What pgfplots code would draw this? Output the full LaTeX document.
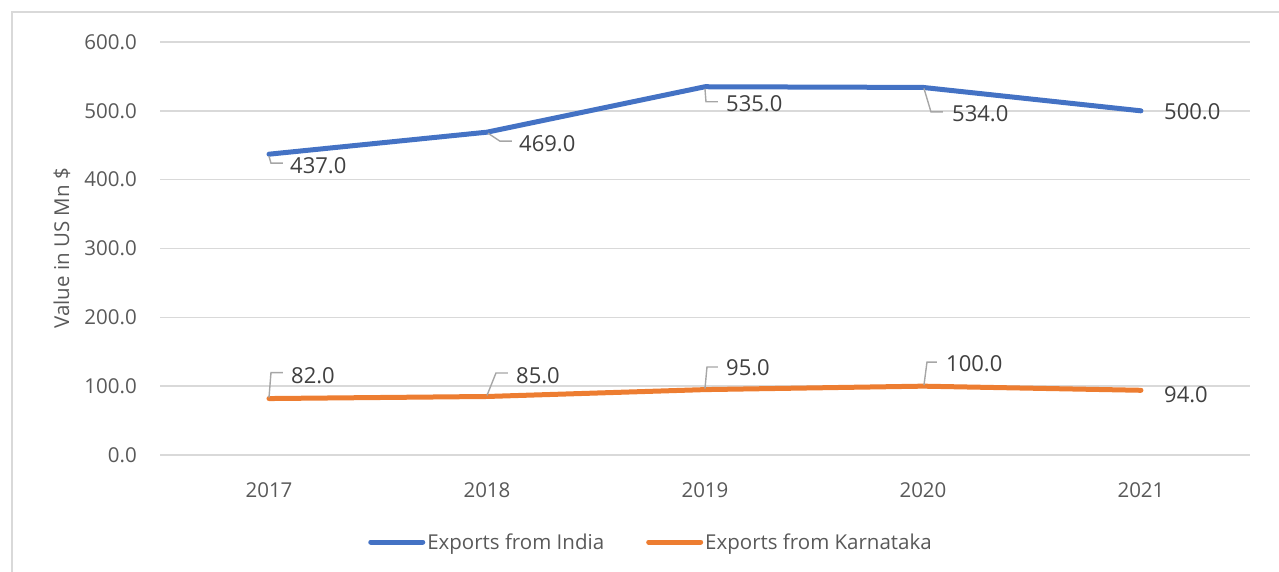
\documentclass[border=0pt]{standalone}
\usepackage{fontspec}
\setmainfont{Open Sans}
\usepackage{pgfplots}
\pgfplotsset{compat=1.18}
\definecolor{cIndia}{HTML}{4472C4}
\definecolor{cKar}{HTML}{ED7D31}
\definecolor{gridc}{HTML}{D9D9D9}
\definecolor{txt}{HTML}{595959}
\definecolor{lbl}{HTML}{404040}
\definecolor{lead}{HTML}{A6A6A6}
\begin{document}
\begin{tikzpicture}
\useasboundingbox (0pt,0pt) rectangle (1279pt,572pt);
\draw[gridc, line width=1.5pt] (12pt,-5pt) -- (12pt,560pt) -- (1285pt,560pt);
\begin{axis}[
  at={(160pt,117pt)}, anchor=south west,
  scale only axis, width=1090pt, height=413pt,
  xmin=2016.5, xmax=2021.5, ymin=0, ymax=600,
  xtick={2017,2018,2019,2020,2021},
  xticklabels={2017,2018,2019,2020,2021},
  ytick={0,100,200,300,400,500,600},
  axis line style={draw=none},
  major tick length=0pt,
  ymajorgrids, grid style={gridc, line width=1.4pt},
  /pgf/number format/assume math mode=true,
  yticklabel={\pgfmathprintnumber[fixed,fixed zerofill,precision=1]{\tick}},
  yticklabel style={anchor=east, inner sep=0pt, xshift=-23pt, font=\fontsize{20.5}{24}\selectfont, text=txt},
  xticklabel style={anchor=center, inner sep=0pt, yshift=-35pt, font=\fontsize{20.5}{24}\selectfont, text=txt},
  ylabel={Value in US Mn \$},
  ylabel style={at={(axis description cs:-0.0899,0.5)}, anchor=center, font=\fontsize{20.5}{24}\selectfont, text=txt},
  legend columns=2,
  legend style={at={(axis description cs:0.4505,-0.2107)}, anchor=center, draw=none, fill=none,
    font=\fontsize{20.5}{24}\selectfont, text=txt,
    /tikz/every even column/.append style={column sep=40pt},
    inner sep=0pt},
  legend image code/.code={\draw[#1, line width=5pt, line cap=round] (0pt,0pt) -- (52pt,0pt);},
  clip=false,
]
\addplot[cIndia, line width=5pt, line cap=round, line join=round] coordinates {(2017,437) (2018,469) (2019,535) (2020,534) (2021,500)};
\addlegendentry{Exports from India}
\addplot[cKar, line width=5pt, line cap=round, line join=round] coordinates {(2017,82) (2018,85) (2019,95) (2020,100) (2021,94)};
\addlegendentry{Exports from Karnataka}

% leader lines
\begin{scope}[lead, line width=1.4pt]
\draw ([yshift=-2pt]axis cs:2017,437) -- ++(2pt,-7pt) -- ++(12pt,0pt);
\draw ([xshift=1pt,yshift=-1pt]axis cs:2018,469) -- ++(12pt,-8pt) -- ++(12pt,0pt);
\draw ([yshift=-2pt]axis cs:2019,535) -- ++(1pt,-13pt) -- ++(12pt,0pt);
\draw ([xshift=1pt,yshift=-1pt]axis cs:2020,534) -- ++(7pt,-23.5pt) -- ++(12pt,0pt);
\draw ([yshift=1pt]axis cs:2017,82) -- ++(2pt,25pt) -- ++(12pt,0pt);
\draw ([yshift=1pt]axis cs:2018,85) -- ++(9pt,22.5pt) -- ++(12pt,0pt);
\draw ([yshift=1pt]axis cs:2019,95) -- ++(2pt,21.6pt) -- ++(11pt,0pt);
\draw ([xshift=1pt,yshift=1pt]axis cs:2020,100) -- ++(3pt,23pt) -- ++(10pt,0pt);
\end{scope}
% data labels
\begin{scope}[every node/.style={anchor=west, inner sep=0pt, text=lbl, font=\fontsize{22}{26}\selectfont}]
\node at ([xshift=21pt,yshift=-11pt]axis cs:2017,437) {437.0};
\node at ([xshift=32pt,yshift=-12pt]axis cs:2018,469) {469.0};
\node at ([xshift=21pt,yshift=-17pt]axis cs:2019,535) {535.0};
\node at ([xshift=29pt,yshift=-26.5pt]axis cs:2020,534) {534.0};
\node at ([xshift=23pt,yshift=-1pt]axis cs:2021,500) {500.0};
\node at ([xshift=22pt,yshift=22.6pt]axis cs:2017,82) {82.0};
\node at ([xshift=29pt,yshift=20.5pt]axis cs:2018,85) {85.0};
\node at ([xshift=21pt,yshift=21.6pt]axis cs:2019,95) {95.0};
\node at ([xshift=23pt,yshift=22pt]axis cs:2020,100) {100.0};
\node at ([xshift=23pt,yshift=-4pt]axis cs:2021,94) {94.0};
\end{scope}
\end{axis}
\end{tikzpicture}
\end{document}
